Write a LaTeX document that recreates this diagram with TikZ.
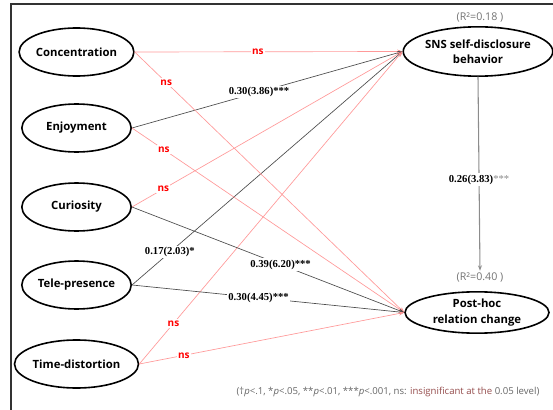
\documentclass[tikz,border=0pt]{standalone}
\usepackage{fontspec}
\newfontfamily\sansfont{Open Sans}
\newfontfamily\numfont{Liberation Serif}
\usetikzlibrary{shapes.geometric,arrows.meta}

\begin{document}
\begin{tikzpicture}[x=0.75pt,y=-0.75pt,cap=round,
	construct/.style={ellipse,draw,line width=1.2pt,minimum width=82pt,minimum height=36pt,inner sep=0pt,align=center,font=\sansfont\fontsize{8.5}{11.5}\selectfont\bfseries},
	sigpath/.style={draw=black!70,line width=0.5pt,-{Stealth[length=4pt,width=3pt]}},
	nspath/.style={draw=red!40,line width=0.5pt,-{Stealth[length=4pt,width=3pt,fill=red!80!black]}},
	coef/.style={fill=white,inner sep=1pt,font=\numfont\fontsize{8}{9}\selectfont\bfseries},
	nslab/.style={fill=white,inner sep=1pt,text=red,font=\sansfont\fontsize{7.5}{9}\selectfont\bfseries},
	rsq/.style={text=black!55,inner sep=1pt,font=\sansfont\fontsize{8}{9}\selectfont}]
	\useasboundingbox (0,0) rectangle (553,410);
	%\draw[step=10,very thin,color=gray] (0,0) grid (553,410);
	\draw[line width=1.1pt,black!80] (11,410) -- (11,4) -- (553,4);
	% constructs
	\node[construct] (conc) at (76.5,52) {Concentration};
	\node[construct] (enjoy) at (76.5,128) {Enjoyment};
	\node[construct] (curio) at (76.5,207) {Curiosity};
	\node[construct] (tele) at (76.5,285) {Tele-presence};
	\node[construct] (timed) at (76.5,364) {Time-distortion};
	\node[construct,minimum width=106pt,minimum height=37pt] (sns) at (478,51.5) {SNS self-disclosure\\behavior};
	\node[construct,minimum width=108pt,minimum height=31pt,inner ysep=-3pt] (post) at (477,312.5) {Post-hoc\\relation change};
	\node[rsq] (rsns) at (480,17) {(R²=0.18 )};
	\node[rsq] (rpost) at (480,277) {(R²=0.40 )};
	% paths to SNS self-disclosure
	\draw[nspath] (conc.east) -- node[nslab,pos=0.46] (ns1) {ns} (sns.west);
	\draw[sigpath] (enjoy.east) -- node[coef,pos=0.47] (c1) {0.30(3.86)***} (sns.west);
	\draw[nspath] (curio.east) -- node[nslab,pos=0.116] (ns3) {ns} (sns.west);
	\draw[sigpath] (tele.east) -- node[coef,pos=0.14] (c2) {0.17(2.03)*} (sns.west);
	\draw[nspath] (timed.east) -- node[nslab,pos=0.13] (ns5) {ns} (sns.west);
	% paths to post-hoc relation change
	\draw[nspath] (conc.east) -- node[nslab,pos=0.117] (ns2) {ns} (post.west);
	\draw[nspath] (enjoy.east) -- node[nslab,pos=0.117] (ns4) {ns} (post.west);
	\draw[sigpath] (curio.east) -- node[coef,pos=0.546] (c3) {0.39(6.20)***} (post.west);
	\draw[sigpath] (tele.east) -- node[coef,pos=0.465] (c4) {0.30(4.45)***} (post.west);
	\draw[nspath] (timed.east) -- node[nslab,pos=0.168] (ns6) {ns} (post.west);
	% mediator
	\draw[draw=black!45,line width=0.8pt,-{Stealth[length=4pt,width=3pt]}] (sns.south) -- node[coef,pos=0.53] (c5) {0.26(3.83){\mdseries\color{black!45}***}} (rpost.north);
	\node[rsq,text=black!60,font=\sansfont\fontsize{7.2}{8}\selectfont] (note) at (388,392) {(†\textit{p}<.1, *\textit{p}<.05, **\textit{p}<.01, ***\textit{p}<.001, ns: {\color{red!40!black!70}insignificant at the} 0.05 level)};
\end{tikzpicture}
\end{document}
